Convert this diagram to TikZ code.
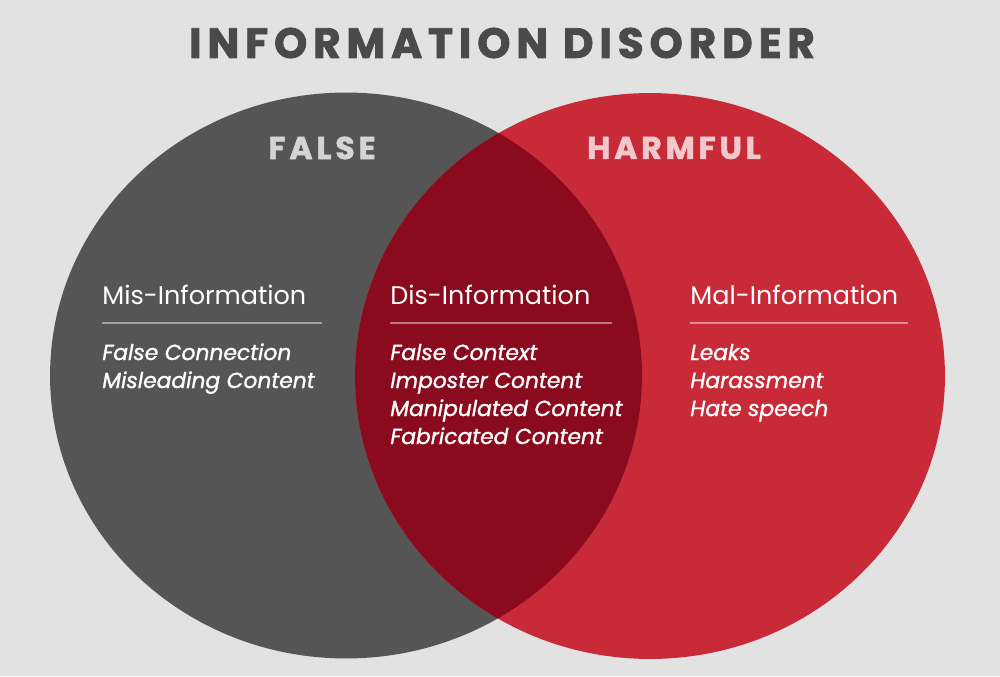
\documentclass[tikz,border=0pt]{standalone}
\usepackage{fontspec}
\setmainfont{Poppins}
\usetikzlibrary{positioning}
\definecolor{idback}{RGB}{226,226,226}
\definecolor{idgray}{RGB}{85,85,85}
\definecolor{idred}{RGB}{200,42,56}
\definecolor{iddarkred}{RGB}{138,10,30}
\definecolor{idtitle}{RGB}{74,74,74}
\definecolor{idfalse}{RGB}{212,212,212}
\definecolor{idharm}{RGB}{242,200,204}
\begin{document}
\begin{tikzpicture}[x=0.02cm,y=-0.02cm,
  head/.style={text=white,anchor=base west,inner sep=0pt,font=\fontsize{14.5}{17}\selectfont},
  item/.style={text=white,anchor=base west,inner sep=0pt,font=\fontsize{12.4}{14}\selectfont\itshape\addfontfeature{FakeBold=1.2}},
  setname/.style={inner sep=0pt,font=\fontsize{18}{20}\selectfont\bfseries\addfontfeature{LetterSpace=12,FakeBold=1.5}},
  rule/.style={white,opacity=0.45,line width=0.9pt}]
  \fill[idback] (0,0) rectangle (1000,676);
  \useasboundingbox (0,0) rectangle (1000,676);
  % the two sets
  \fill[idgray] (346,375.5) ellipse [x radius=5.92cm,y radius=5.66cm];
  \fill[idred] (650,376) ellipse [x radius=5.90cm,y radius=5.66cm];
  \begin{scope}
    \clip (346,375.5) ellipse [x radius=5.92cm,y radius=5.66cm];
    \fill[iddarkred] (650,376) ellipse [x radius=5.90cm,y radius=5.66cm];
  \end{scope}
  \node[text=idtitle,font=\fontsize{24}{26}\selectfont\bfseries\addfontfeature{LetterSpace=14,FakeBold=2}] (title) at (502,43) {INFORMATION DISORDER};
  \node[setname,text=idfalse] (false) at (322,148) {FALSE};
  \node[setname,text=idharm] (harmful) at (674,148) {HARMFUL};
  % headings
  \node[head] (mis) at (102,304) {Mis-Information};
  \node[head] (dis) at (390,304) {Dis-Information};
  \node[head] (mal) at (690,304) {Mal-Information};
  \draw[rule] (102,323) -- (322,323);
  \draw[rule] (390,323) -- (612,323);
  \draw[rule] (690,323) -- (908,323);
  % kinds
  \foreach \t [count=\k] in {False Connection,Misleading Content}
    \node[item] (mis\k) at (102,332+28*\k) {\t};
  \foreach \t [count=\k] in {False Context,Imposter Content,Manipulated Content,Fabricated Content}
    \node[item] (dis\k) at (390,332+28*\k) {\t};
  \foreach \t [count=\k] in {Leaks,Harassment,Hate speech}
    \node[item] (mal\k) at (690,332+28*\k) {\t};
\end{tikzpicture}
\end{document}
